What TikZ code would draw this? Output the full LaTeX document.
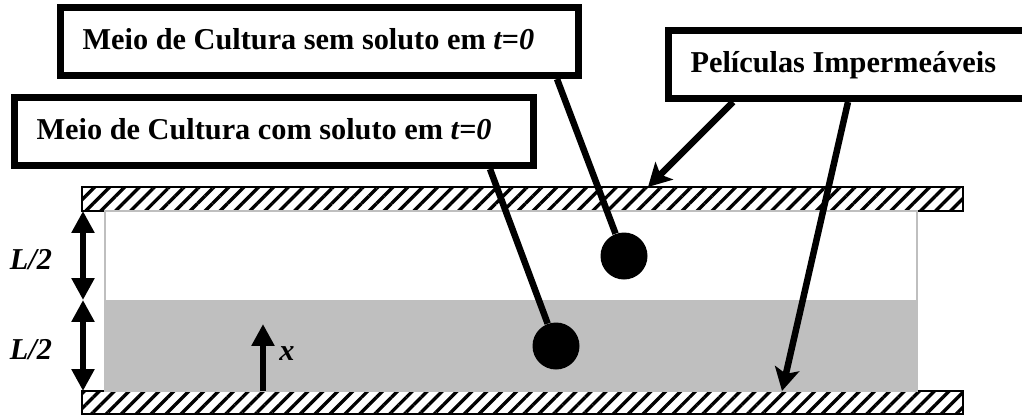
\documentclass[tikz,border=0pt]{standalone}
\usepackage{fontspec}
\setmainfont{Liberation Serif}
\usetikzlibrary{arrows.meta,patterns.meta,positioning}
\tikzset{
  label box/.style={shape=rectangle,draw=black,fill=white,line width=4.1pt,inner ysep=0pt,inner xsep=0.44cm,align=flush left,text depth=0.12cm,font=\fontsize{17.25}{20}\selectfont\bfseries},
  film/.style={shape=rectangle,draw=black,line width=0.8pt,inner sep=0pt,pattern={Lines[angle=45,distance=6pt,line width=1.9pt]}},
  blob/.style={shape=circle,fill=black,minimum size=47*0.02cm,inner sep=0pt},
  leader/.style={line width=3.7pt},
  barbed/.style={line width=3.7pt,-{Stealth[length=13pt,width=14pt,inset=3pt]}},
  double head/.style={line width=3.7pt,{Triangle[length=12.5pt,width=12.5pt]}-{Triangle[length=12.5pt,width=12.5pt]}},
  side label/.style={font=\fontsize{17.25}{20}\selectfont\bfseries\itshape}
}

\begin{document}
\begin{tikzpicture}[x=0.02cm,y=-0.02cm]
\useasboundingbox (0,0) rectangle (1022,416);

% Impermeable films
\node [film,minimum width=881*0.02cm,minimum height=24*0.02cm] at (522.5,199) (topfilm) {};
\node [film,minimum width=881*0.02cm,minimum height=23*0.02cm] at (522.5,402.5) (botfilm) {};

% Culture medium
\node [shape=rectangle,draw=black!25,fill=white,line width=0.8pt,minimum width=812*0.02cm,minimum height=180*0.02cm,inner sep=0pt] at (511,301) (medium) {};
\node [shape=rectangle,fill=black!25,minimum width=812*0.02cm,minimum height=91*0.02cm,inner sep=0pt] at (511,345.5) (lower) {};

% Label boxes
\node [label box,text width=9.48cm,minimum height=68*0.02cm] at (319.5,41.5) (without) {Meio de Cultura sem soluto em \textit{t=0}};
\node [label box,text width=9.5cm,minimum height=68*0.02cm] at (274,131.5) (with) {Meio de Cultura com soluto em \textit{t=0}};
\node [label box,text width=6.36cm,minimum height=68*0.02cm] at (849.5,64.5) (films) {Películas Impermeáveis};

% Dots
\node [blob] at (624,256) (dotup) {};
\node [blob] at (556,346) (dotlow) {};

% Free ends
\coordinate (a) at (557,79);
\coordinate (b) at (490,169);
\coordinate (c) at (733,102);
\coordinate (d) at (848,102);
\coordinate (topend) at (648,187);
\coordinate (botend) at (782,391);
\coordinate (h0) at (83,211);
\coordinate (h1) at (83,300);
\coordinate (h2) at (83,391);
\coordinate (xbase) at (263,391);
\coordinate (xtip) at (263,324);

% Leaders
\draw [leader] (a) -- (dotup);
\draw [leader] (b) -- (dotlow);
\draw [barbed] (c) -- (topend);
\draw [barbed] (d) -- (botend);

% Dimensions
\draw [double head] (h0) -- (h1);
\draw [double head] (h1) -- (h2);
\draw [line width=3.7pt,-{Triangle[length=12.5pt,width=12.5pt]}] (xbase) -- (xtip);
\node [side label] at (31,260) (lup) {L/2};
\node [side label] at (31,350) (llow) {L/2};
\node [side label] at (287,354) (xlab) {x};

\end{tikzpicture}
\end{document}
